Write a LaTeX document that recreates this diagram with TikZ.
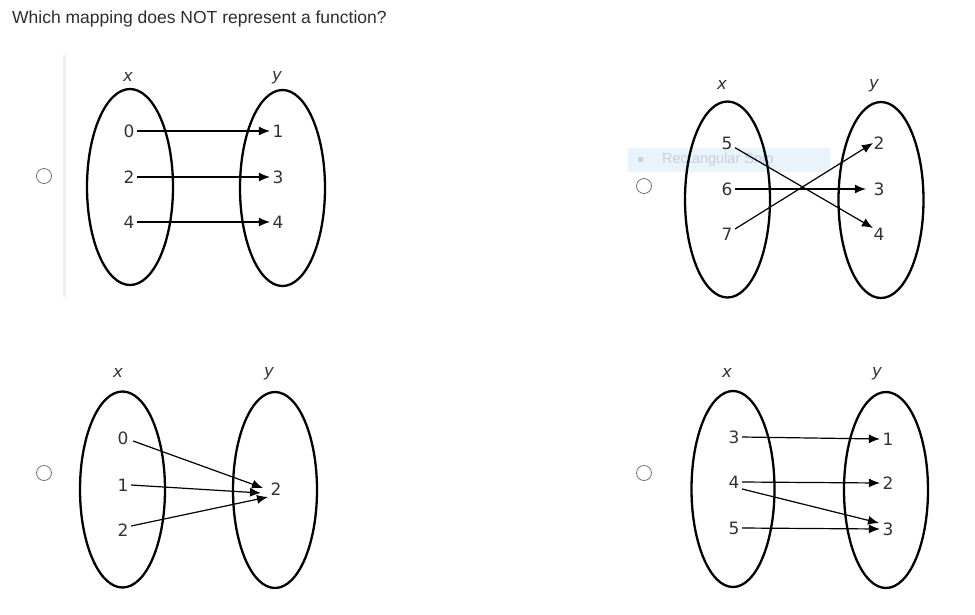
\documentclass[tikz,border=0pt]{standalone}
\usepackage{fontspec}
\setmainfont{Liberation Sans}
\newfontfamily\verd{DejaVu Sans}
\usetikzlibrary{arrows.meta}
\definecolor{ttl}{RGB}{45,45,45}
\definecolor{snipbg}{RGB}{232,243,252}
\definecolor{sniptx}{RGB}{196,208,222}
\definecolor{sepline}{RGB}{238,238,238}
\begin{document}
\begin{tikzpicture}[x=1pt,y=-1pt,
  lbl/.style={font=\verd\fontsize{17}{17}\selectfont, inner sep=2.5pt, text=black!80},
  var/.style={font=\verd\itshape\fontsize{16.5}{17}\selectfont, inner sep=0pt, text=black!80},
  setline/.style={line width=2.3pt},
  arr/.style={line width=1.2pt, -{Latex[length=11pt,width=9pt]}},
  radio/.style={draw=black!55, line width=0.8pt, circle, minimum size=15pt, inner sep=0pt}]
\useasboundingbox[fill=white] (0,0) rectangle (975,614);

% title
\node[anchor=west, inner sep=0pt, text=ttl, font=\fontsize{17.5}{19}\selectfont] (title) at (12,19) {Which mapping does NOT represent a function?};

% ---------- top-left ----------
\draw[sepline, line width=3pt] (64,55) -- (64,297);
\node[radio] (r1) at (44,176) {};
\draw[setline] (130,187) ellipse (43 and 98);
\draw[setline] (282.5,188) ellipse (42.5 and 98);
\node[var] (tlx) at (128,77) {x};
\node[var] (tly) at (277,78) {y};
\node[lbl] (tla0) at (129,131) {0};
\node[lbl] (tla2) at (129,177) {2};
\node[lbl] (tla4) at (129,222) {4};
\node[lbl] (tlb1) at (278,131) {1};
\node[lbl] (tlb3) at (278,177) {3};
\node[lbl] (tlb4) at (278,222) {4};
\draw[arr] (tla0) -- (tlb1);
\draw[arr] (tla2) -- (tlb3);
\draw[arr] (tla4) -- (tlb4);

% ---------- top-right ----------
\fill[snipbg] (628,148) rectangle (830,172);
\fill[black!18] (637.5,156.5) rectangle (642.5,161.5);
\node[anchor=west, inner sep=0pt, text=sniptx, font=\fontsize{14.5}{15}\selectfont] (snip) at (662,160) {Rectangular Snip};
\node[radio] (r2) at (644,186) {};
\draw[setline] (727.5,199.5) ellipse (42.5 and 98);
\draw[setline] (881,200) ellipse (42.5 and 98);
\node[var] (trx) at (722,85) {x};
\node[var] (try) at (874,86) {y};
\node[lbl] (tra5) at (727,143) {5};
\node[lbl] (tra6) at (727,189) {6};
\node[lbl] (tra7) at (727,234) {7};
\node[lbl] (trb2) at (879,143) {2};
\node[lbl] (trb3) at (879,189) {3};
\node[lbl] (trb4) at (879,234) {4};
\draw[arr] (tra5) -- ([shift={(-6,-6)}]trb4.center);
\draw[arr] (tra6) -- ([xshift=-5pt]trb3.west);
\draw[arr] (tra7) -- ([shift={(-6,0)}]trb2.center);

% ---------- bottom-left ----------
\node[radio] (r3) at (44,473) {};
\draw[setline] (122.5,489.5) ellipse (42.5 and 98);
\draw[setline] (275,490) ellipse (42 and 98);
\node[var] (blx) at (118,373) {x};
\node[var] (bly) at (269,374) {y};
\node[lbl] (bla0) at (123,438) {0};
\node[lbl] (bla1) at (123,485) {1};
\node[lbl] (bla2) at (123,530) {2};
\node[lbl] (blb2) at (276,489) {2};
\draw[arr] ([shift={(2,3)}]bla0.east) -- ([shift={(-13,-1)}]blb2.center);
\draw[arr] (bla1.east) -- ([shift={(-15,4)}]blb2.center);
\draw[arr] ([shift={(0,-4)}]bla2.east) -- ([shift={(-8,8)}]blb2.center);

% ---------- bottom-right ----------
\node[radio] (r4) at (644,473) {};
\draw[setline] (733,489) ellipse (41.5 and 98);
\draw[setline] (886,490) ellipse (42 and 98);
\node[var] (brx) at (727,373) {x};
\node[var] (bry) at (877,374) {y};
\node[lbl] (bra3) at (734,437) {3};
\node[lbl] (bra4) at (734,482) {4};
\node[lbl] (bra5) at (734,528) {5};
\node[lbl] (brb1) at (888,439) {1};
\node[lbl] (brb2) at (888,483) {2};
\node[lbl] (brb3) at (888,529) {3};
\draw[arr] (bra3.east) -- (brb1.west);
\draw[arr] (bra4.east) -- (brb2.west);
\draw[arr] ([shift={(0,7)}]bra4.east) -- ([shift={(-9,-6)}]brb3.center);
\draw[arr] (bra5.east) -- (brb3.west);
\end{tikzpicture}
\end{document}
